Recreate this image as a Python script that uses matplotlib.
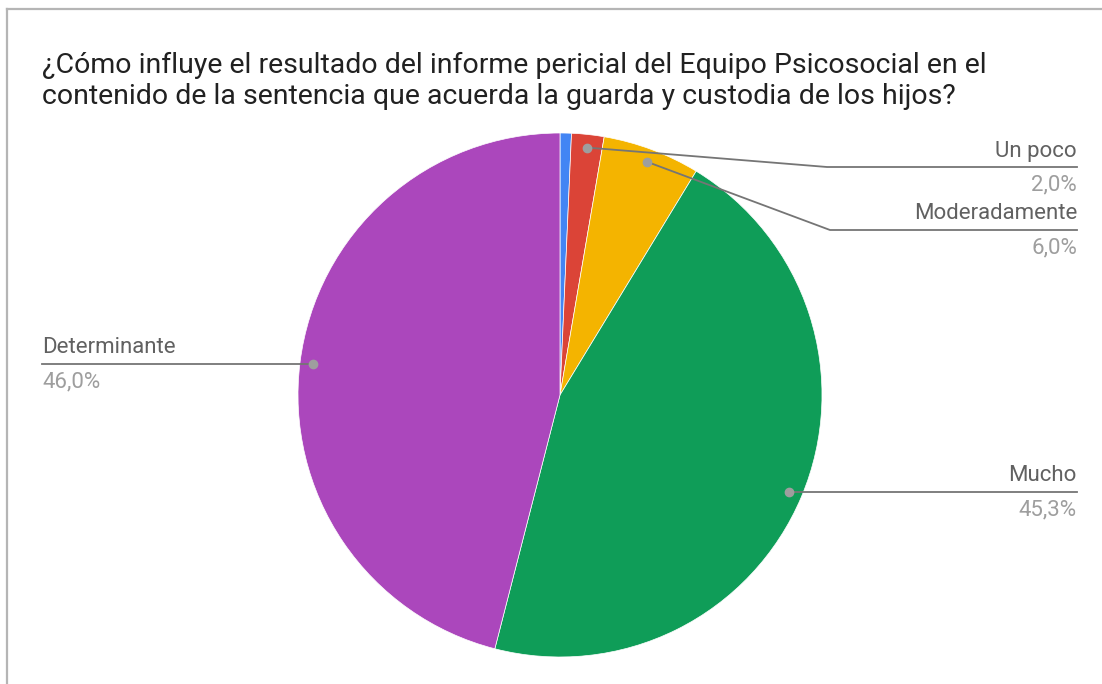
import matplotlib.pyplot as plt
import numpy as np
from matplotlib.lines import Line2D

plt.rcParams['font.family'] = ['Roboto', 'DejaVu Sans']

# Data
labels = ['Nada', 'Un poco', 'Moderadamente', 'Mucho', 'Determinante']
values = [0.7, 2.0, 6.0, 45.3, 46.0]
pct_labels = ['0,7%', '2,0%', '6,0%', '45,3%', '46,0%']
colors = ['#4285f4', '#db4437', '#f4b400', '#0f9d58', '#ab47bc']
title = ('¿Cómo influye el resultado del informe pericial del Equipo Psicosocial en el\n'
         'contenido de la sentencia que acuerda la guarda y custodia de los hijos?')

W, H = 1102, 684
cx, cy, R = 560, 395, 262

fig = plt.figure(figsize=(W / 100, H / 100), dpi=100)
ax = fig.add_axes([(cx - R) / W, (H - cy - R) / H, 2 * R / W, 2 * R / H])
ax.pie(values, colors=colors, startangle=90, counterclock=False, radius=1,
       wedgeprops=dict(edgecolor='white', linewidth=0.5))
ax.set_xlim(-1, 1)
ax.set_ylim(-1, 1)
ax.axis('off')

# border
fig.add_artist(Line2D([7 / W, 7 / W], [0, 1 - 9 / H], color='#b5b5b5', lw=1.6))
fig.add_artist(Line2D([7 / W, 1], [1 - 9 / H, 1 - 9 / H], color='#b5b5b5', lw=1.6))

fig.text(42 / W, 1 - 81 / H, title, fontsize=20.5, color='#212121',
         ha='left', va='center', linespacing=1.2)


def to_data(px, py):
    return (px - cx) / R, (cy - py) / R


# leader lines: (label index, elbow px, text side)
leaders = [(1, (827, 167), 'right'),
           (2, (830, 230), 'right'),
           (3, None, 'right'),
           (4, None, 'left')]

cum = np.cumsum([0] + values)
total = sum(values)
for i, elbow, side in leaders:
    mid = 90 - 360 * (cum[i] + values[i] / 2) / total
    dx, dy = 0.95 * np.cos(np.radians(mid)), 0.95 * np.sin(np.radians(mid))
    if elbow is None:
        ly = dy
        ex = dx
    else:
        ex, ly = to_data(*elbow)
    if side == 'right':
        endx = to_data(1077, 0)[0]
        ax.plot([dx, ex, endx], [dy, ly, ly], color='#757575', lw=1.3, clip_on=False, zorder=3)
        tx, ha = endx, 'right'
    else:
        endx = to_data(42, 0)[0]
        ax.plot([dx, endx], [dy, ly], color='#757575', lw=1.3, clip_on=False, zorder=3)
        tx, ha = endx, 'left'
    ax.plot(dx, dy, 'o', color='#9e9e9e', ms=6, zorder=4, clip_on=False)
    ax.text(tx, ly + 16 / R, labels[i], ha=ha, va='center', fontsize=16, color='#616161')
    ax.text(tx, ly - 18 / R, pct_labels[i], ha=ha, va='center', fontsize=16, color='#9e9e9e')

fig.savefig('out.png', dpi=100, facecolor='white')
